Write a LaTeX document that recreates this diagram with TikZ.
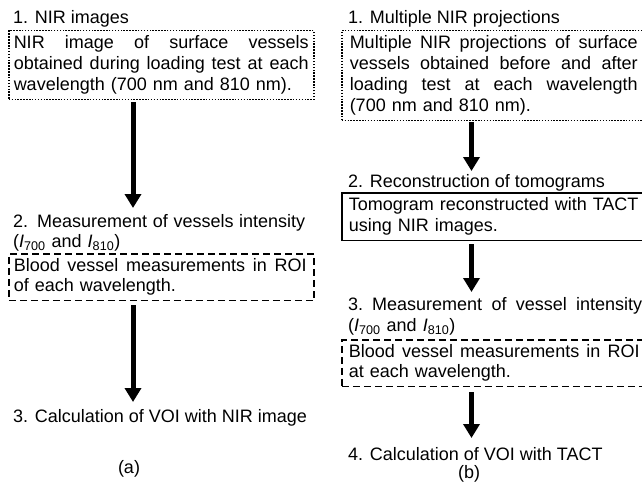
\documentclass[tikz,border=0pt]{standalone}
\usepackage{fontspec}
\setmainfont{Liberation Sans}
\usetikzlibrary{arrows.meta}
\newcommand\JL[2][295pt]{\leavevmode\hbox to #1{\spaceskip=.278em plus 5em\relax #2}}
\newcommand\Isub[1]{\textit{I}\textsubscript{#1}}
\begin{document}
\begin{tikzpicture}[x=1pt,y=-1pt,
  every node/.style={font=\fontsize{18}{21}\selectfont, inner sep=0pt, text=black},
  head/.style={anchor=north west, align=left},
  boxa/.style={anchor=north west, align=left, inner xsep=5pt, inner ysep=5pt, line width=1.5pt},
  dotbox/.style={boxa, draw, dash pattern=on 1.5pt off 1.4pt},
  dashbox/.style={boxa, draw, dash pattern=on 7pt off 4pt, font=\fontsize{18}{20}\selectfont},
  solidbox/.style={boxa, draw},
  arr/.style={line width=5pt, -{Triangle[width=16pt,length=14pt]}}
]
\useasboundingbox (0,0) rectangle (642,487);
\clip (0,0) rectangle (642,487);
\coordinate (ax) at (133,0);
\coordinate (bx) at (471.5,0);

% (a) column
\node[head] (h1a) at (13,10) {1. NIR images};
\node[dotbox, text width=295pt] (b1a) at (8,30)
  {\JL{NIR image of surface vessels}\\
   \JL{obtained during loading test at each}\\
   wavelength (700 nm and 810 nm).};
\node[head, text width=292pt, font=\fontsize{18}{20}\selectfont] (h2a) at (13,214)
  {\JL[292pt]{2. Measurement of vessels intensity}\\(\Isub{700} and \Isub{810})};
\node[dashbox, text width=295pt] (b2a) at (8,253)
  {\JL[293pt]{Blood vessel measurements in ROI}\\of each wavelength.};
\node[head] (h3a) at (13,409) {3. Calculation of VOI with NIR image};
\node[anchor=base] (la) at (129,473) {(a)};

\draw[arr, shorten <=2pt, shorten >=6pt] (b1a.south -| ax) -- (h2a.north -| ax);
\draw[arr, shorten <=4pt, shorten >=7pt] (b2a.south -| ax) -- (h3a.north -| ax);

% (b) column
\node[head] (h1b) at (348,10) {1. Multiple NIR projections};
\node[dotbox, text width=288pt, inner xsep=8pt] (b1b) at (341,30)
  {\JL[288pt]{Multiple NIR projections of surface}\\
   \JL[288pt]{vessels obtained before and after}\\
   \JL[288pt]{loading test at each wavelength}\\
   (700 nm and 810 nm).};
\node[head] (h2b) at (348,174) {2. Reconstruction of tomograms};
\node[solidbox, text width=295pt, inner xsep=7pt] (b2b) at (341,192)
  {Tomogram reconstructed with TACT\\using NIR images.};
\node[head, text width=294pt] (h3b) at (348,297)
  {\JL[294pt]{3. Measurement of vessel intensity}\\(\Isub{700} and \Isub{810})};
\node[dashbox, text width=295pt, inner xsep=7pt] (b3b) at (341,339)
  {\JL[291pt]{Blood vessel measurements in ROI}\\at each wavelength.};
\node[head] (h4b) at (348,447) {4. Calculation of VOI with TACT};
\node[anchor=base] (lb) at (469,478) {(b)};

\draw[arr, shorten <=1pt, shorten >=3pt] (b1b.south -| bx) -- (h2b.north -| bx);
\draw[arr, shorten <=3pt, shorten >=5pt] (b2b.south -| bx) -- (h3b.north -| bx);
\draw[arr, shorten <=5pt, shorten >=9pt] (b3b.south -| bx) -- (h4b.north -| bx);
\end{tikzpicture}
\end{document}
